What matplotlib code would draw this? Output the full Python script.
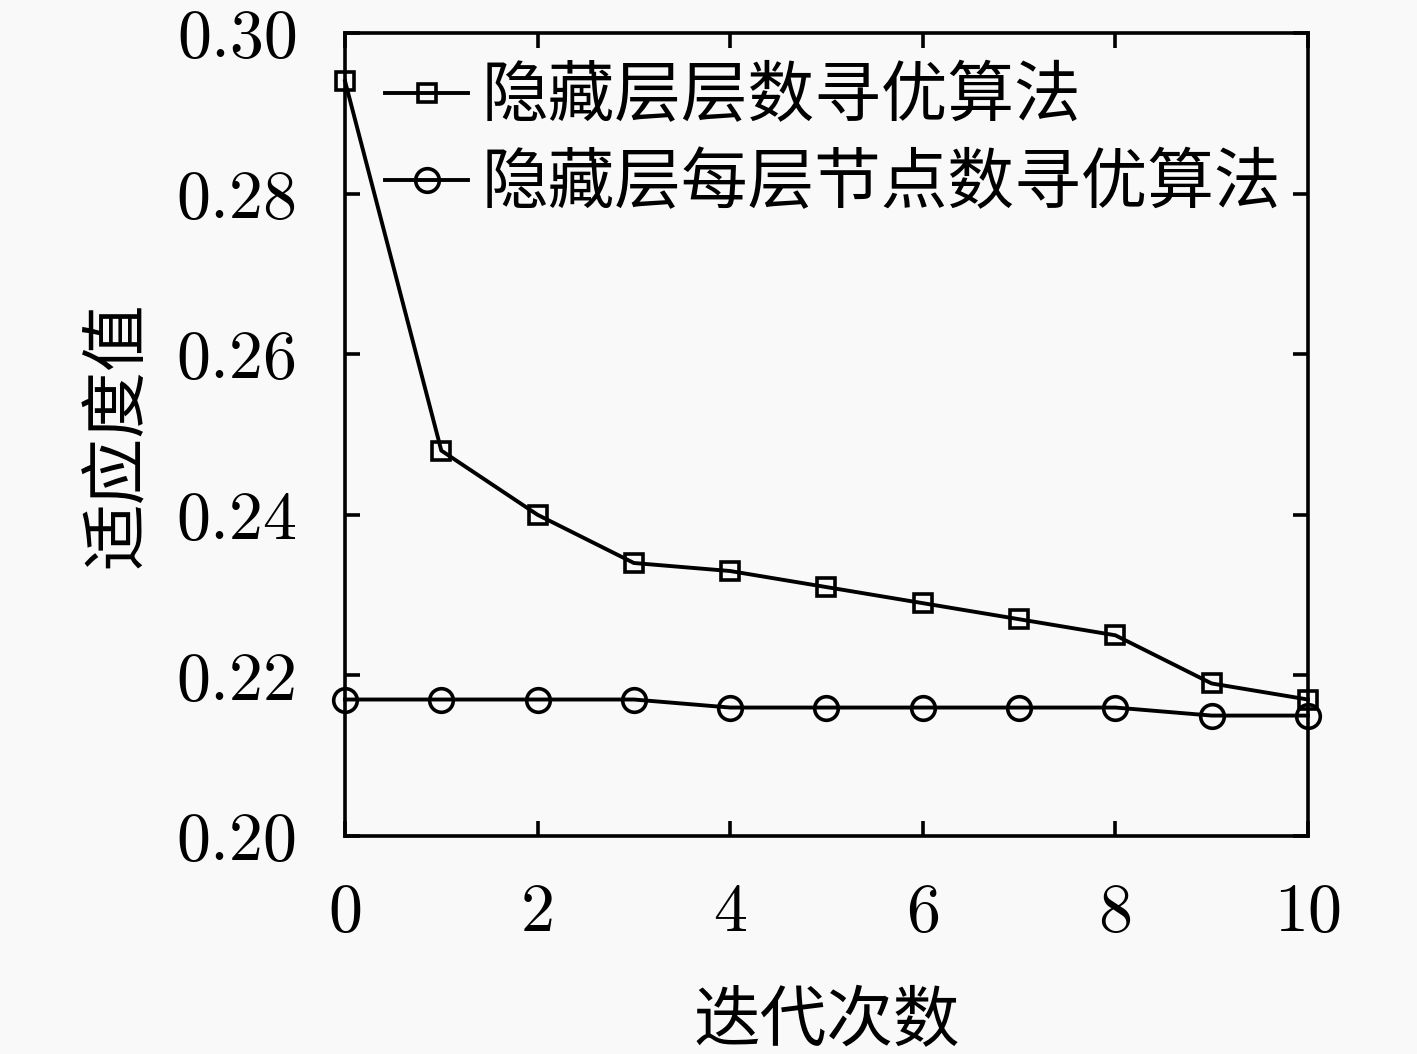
import matplotlib
matplotlib.use("Agg")
import matplotlib.pyplot as plt

# iterations on x axis
iterations = [0, 1, 2, 3, 4, 5, 6, 7, 8, 9, 10]
# fitness values
layer_count_fit = [0.294, 0.248, 0.240, 0.234, 0.233, 0.231, 0.229, 0.227, 0.225, 0.219, 0.217]
node_count_fit = [0.217, 0.217, 0.217, 0.217, 0.216, 0.216, 0.216, 0.216, 0.216, 0.215, 0.215]

series_names = ["隐藏层层数寻优算法", "隐藏层每层节点数寻优算法"]
x_ticks = [0, 2, 4, 6, 8, 10]
y_ticks = [0.20, 0.22, 0.24, 0.26, 0.28, 0.30]
x_title = "迭代次数"
y_title = "适应度值"

plt.rcParams["font.family"] = ["Noto Sans CJK SC", "DejaVu Sans"]
plt.rcParams["axes.unicode_minus"] = False

fig = plt.figure(figsize=(14.17, 10.54), dpi=100, facecolor="#f9f9f9")
ax = fig.add_axes([0.2435, 0.2068, 0.6795, 0.7619])
ax.set_facecolor("#f9f9f9")

ax.plot(iterations, layer_count_fit, color="black", linewidth=2.8, marker="s",
        markersize=13, markerfacecolor="none", markeredgewidth=2.6,
        label=series_names[0], clip_on=False, zorder=3)
ax.plot(iterations, node_count_fit, color="black", linewidth=2.8, marker="o",
        markersize=17, markerfacecolor="none", markeredgewidth=2.6,
        label=series_names[1], clip_on=False, zorder=3)

ax.set_xlim(0, 10)
ax.set_ylim(0.20, 0.30)
ax.set_xticks(x_ticks)
ax.set_yticks(y_ticks)
ax.set_xticklabels([str(v) for v in x_ticks])
ax.set_yticklabels(["%.2f" % v for v in y_ticks])

for sp in ax.spines.values():
    sp.set_linewidth(2.6)

ax.tick_params(direction="in", length=11, width=2.6, top=True, right=True,
               labelsize=49, labelfontfamily="cmr10")
ax.tick_params(axis="y", pad=34)
ax.tick_params(axis="x", pad=34)

ax.set_xlabel(x_title, fontsize=48, labelpad=32)
ax.set_ylabel(y_title, fontsize=48, labelpad=18)

leg = ax.legend(loc="upper left", bbox_to_anchor=(0.0, 1.012), frameon=False,
                fontsize=48, handlelength=1.25, handletextpad=0.2,
                labelspacing=0.3, borderaxespad=0.2)

fig.savefig("out.png", dpi=100, facecolor=fig.get_facecolor())
